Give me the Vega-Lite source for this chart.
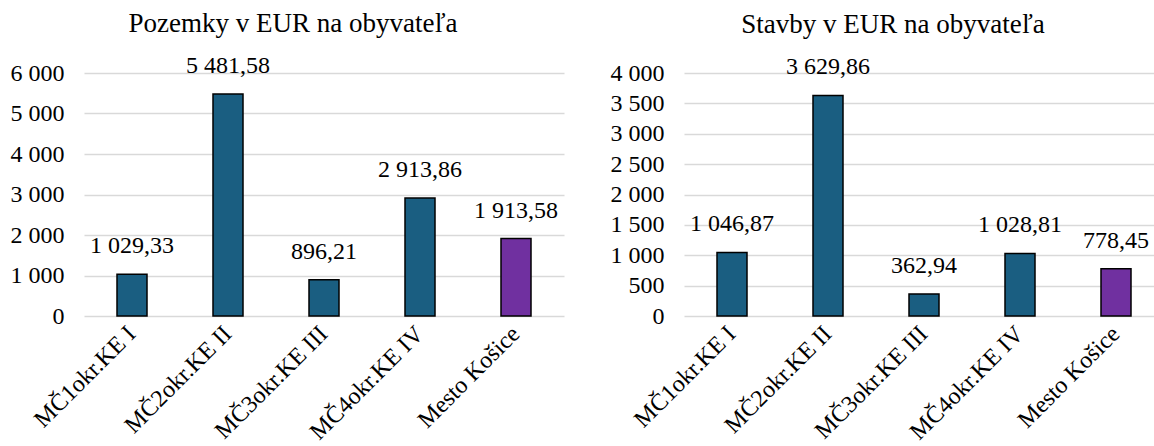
{
  "$schema": "https://vega.github.io/schema/vega-lite/v6.json",
  "padding": {"left": 10, "top": 9, "right": 0, "bottom": 0},
  "spacing": 46,
  "data": {
    "values": [
      {"district": "MČ1okr.KE I", "pozemky": 1029.33, "stavby": 1046.87},
      {"district": "MČ2okr.KE II", "pozemky": 5481.58, "stavby": 3629.86},
      {"district": "MČ3okr.KE III", "pozemky": 896.21, "stavby": 362.94},
      {"district": "MČ4okr.KE IV", "pozemky": 2913.86, "stavby": 1028.81},
      {"district": "Mesto Košice", "pozemky": 1913.58, "stavby": 778.45}
    ]
  },
  "config": {
    "locale": {"number": {"decimal": ",", "thousands": " ", "grouping": [3], "currency": ["", " €"]}},
    "font": "Liberation Serif",
    "view": {"stroke": null},
    "title": {"font": "Liberation Serif", "fontSize": 27, "fontWeight": "normal", "color": "#000000", "baseline": "alphabetic", "offset": 16, "dx": -31},
    "axis": {"labelFont": "Liberation Serif", "labelColor": "#000000", "labelFontSize": 24, "title": null, "ticks": false, "tickSize": 0, "domain": false},
    "axisY": {"gridColor": "#d9d9d9", "gridWidth": 1.5, "labelPadding": 20, "format": ",d"},
    "axisX": {"grid": false, "labelAngle": -45, "labelAlign": "right", "labelBaseline": "middle", "labelPadding": 14}
  },
  "hconcat": [
    {
      "title": "Pozemky v EUR na obyvateľa",
      "width": 480,
      "height": 243,
      "encoding": {
        "x": {"field": "district", "type": "nominal", "sort": null, "scale": {"paddingInner": 0, "paddingOuter": 0}},
        "y": {"field": "pozemky", "type": "quantitative", "scale": {"domain": [0, 6000]}, "axis": {"values": [0, 1000, 2000, 3000, 4000, 5000, 6000]}}
      },
      "layer": [
        {
          "mark": {"type": "bar", "size": 30, "stroke": "#000000", "strokeWidth": 1.5},
          "encoding": {
            "color": {"field": "district", "type": "nominal", "legend": null, "scale": {"domain": ["MČ1okr.KE I", "MČ2okr.KE II", "MČ3okr.KE III", "MČ4okr.KE IV", "Mesto Košice"], "range": ["#1A5E81", "#1A5E81", "#1A5E81", "#1A5E81", "#7030A0"]}}
          }
        },
        {
          "mark": {"type": "text", "fontSize": 24, "font": "Liberation Serif", "color": "#000000", "baseline": "bottom", "dy": -16},
          "encoding": {"text": {"field": "pozemky", "type": "quantitative", "format": ",.2f"}}
        }
      ]
    },
    {
      "title": "Stavby v EUR na obyvateľa",
      "width": 480,
      "height": 243,
      "encoding": {
        "x": {"field": "district", "type": "nominal", "sort": null, "scale": {"paddingInner": 0, "paddingOuter": 0}},
        "y": {"field": "stavby", "type": "quantitative", "scale": {"domain": [0, 4000]}, "axis": {"values": [0, 500, 1000, 1500, 2000, 2500, 3000, 3500, 4000]}}
      },
      "layer": [
        {
          "mark": {"type": "bar", "size": 30, "stroke": "#000000", "strokeWidth": 1.5},
          "encoding": {
            "color": {"field": "district", "type": "nominal", "legend": null, "scale": {"domain": ["MČ1okr.KE I", "MČ2okr.KE II", "MČ3okr.KE III", "MČ4okr.KE IV", "Mesto Košice"], "range": ["#1A5E81", "#1A5E81", "#1A5E81", "#1A5E81", "#7030A0"]}}
          }
        },
        {
          "mark": {"type": "text", "fontSize": 24, "font": "Liberation Serif", "color": "#000000", "baseline": "bottom", "dy": -16},
          "encoding": {"text": {"field": "stavby", "type": "quantitative", "format": ",.2f"}}
        }
      ]
    }
  ]
}
